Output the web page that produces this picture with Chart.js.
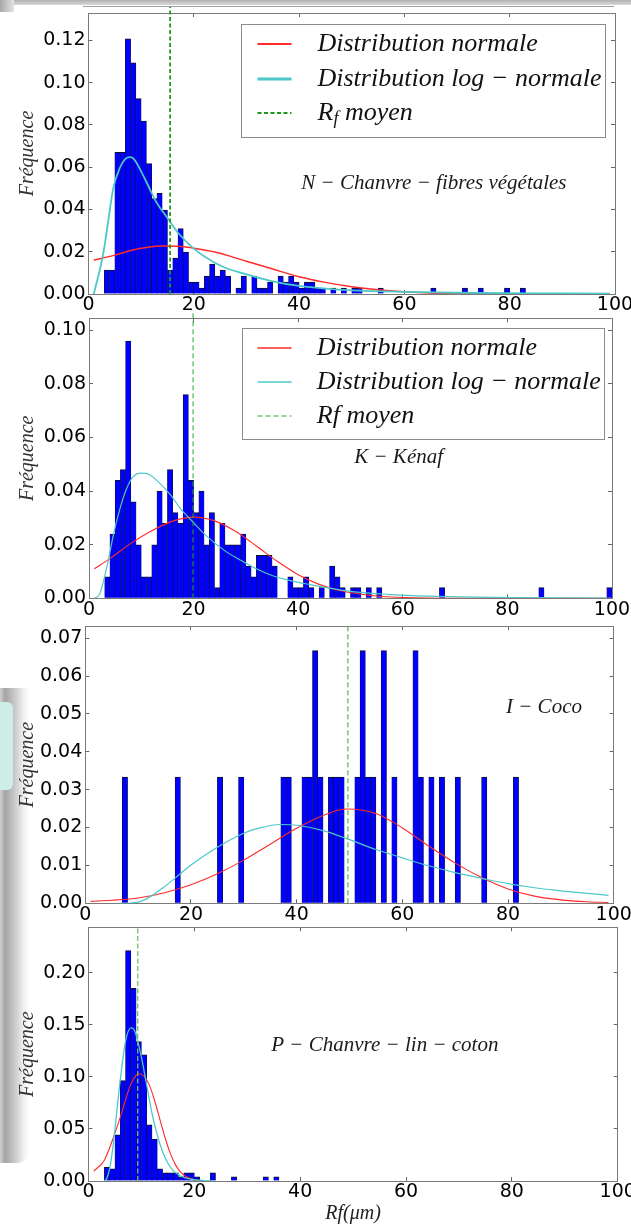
<!DOCTYPE html>
<html>
<head>
<meta charset="utf-8">
<script src="https://cdn.jsdelivr.net/npm/chart.js@4.4.1/dist/chart.umd.min.js"></script>
<style>
html,body{margin:0;padding:0;background:#fff;}
body{width:631px;height:1225px;overflow:hidden;position:relative;}
canvas{position:absolute;left:0;}
.deco{position:absolute;}
</style>
</head>
<body>
<div class="deco" style="left:0;top:0;width:631px;height:5px;background:linear-gradient(#b2b2b2,#d8d8d8);"></div>
<div class="deco" style="left:0;top:0;width:14px;height:12px;background:linear-gradient(to right,#a8a8a8,#e4e4e4);"></div>
<div class="deco" style="left:83px;top:6px;width:531px;height:1px;background:#a0a0a0;"></div>
<div class="deco" style="left:0;top:688px;width:30px;height:475px;border-radius:0 0 14px 0;background:linear-gradient(to right,#d0d0d0 0,#a4a4a4 5px,#c6c6c6 14px,#f2f2f2 24px,#ffffff 30px);"></div>
<div class="deco" style="left:0;top:702px;width:13px;height:88px;border-radius:0 6px 6px 0;background:#cdeee6;"></div>

<canvas id="c1" width="660" height="330" style="top:0px"></canvas>
<canvas id="c2" width="660" height="324" style="top:306px"></canvas>
<canvas id="c3" width="660" height="320" style="top:614px"></canvas>
<canvas id="c4" width="660" height="320" style="top:915px"></canvas>

<script>
// ---------- texts ----------
const yTitle = 'Fréquence';
const xTitle = 'Rf(μm)';
const panelNames = ['N − Chanvre − fibres végétales', 'K − Kénaf', 'I − Coco', 'P − Chanvre − lin − coton'];
const legendLabelsN = ['Distribution normale', 'Distribution log − normale', 'R_f moyen'];
const legendLabelsK = ['Distribution normale', 'Distribution log − normale', 'Rf moyen'];

// ---------- tick labels ----------
const xTickValues = [0, 20, 40, 60, 80, 100];
const chanvreYTicks = [0, 0.02, 0.04, 0.06, 0.08, 0.10, 0.12];
const kenafYTicks = [0, 0.02, 0.04, 0.06, 0.08, 0.10];
const cocoYTicks = [0, 0.01, 0.02, 0.03, 0.04, 0.05, 0.06, 0.07];
const linYTicks = [0, 0.05, 0.10, 0.15, 0.20];

// ---------- histograms (left edge of each non-empty bin, bin width 1 µm) ----------
const BIN_WIDTH = 1;
const chanvreBins = [3,4,5,6,7,8,9,10,11,12,13,14,15,16,17,18,19,20,21,22,23,24,25,26,28,29,31,32,33,34,36,37,38,39,40,41,42,43,44,46,48,50,51,55,65,71,74,79,82];
const chanvreFreq = [0.0113,0.0113,0.067,0.067,0.1208,0.1094,0.0925,0.0819,0.0617,0.0452,0.0476,0.0397,0.0113,0.017,0.031,0.0198,0.0057,0.0057,0.0028,0.0085,0.0142,0.0085,0.0113,0.0085,0.0028,0.0085,0.0085,0.0028,0.0028,0.0057,0.0085,0.0057,0.0085,0.0057,0.0028,0.0057,0.0057,0.0028,0.0028,0.0028,0.0028,0.0028,0.0028,0.0028,0.0028,0.0028,0.0028,0.0028,0.0028];

const kenafBins = [3,4,5,6,7,8,9,10,11,12,13,14,15,16,17,18,19,20,21,22,23,24,25,26,27,28,29,30,31,32,33,34,35,38,39,40,41,42,44,46,47,48,50,51,53,55,67,86,99];
const kenafFreq = [0.008,0.024,0.044,0.048,0.096,0.036,0.020,0.008,0.008,0.020,0.040,0.028,0.048,0.032,0.028,0.076,0.044,0.032,0.040,0.020,0.032,0.004,0.028,0.020,0.020,0.020,0.024,0.012,0.008,0.016,0.016,0.016,0.012,0.008,0.004,0.004,0.008,0.004,0.004,0.012,0.008,0.004,0.004,0.004,0.004,0.004,0.004,0.004,0.004];

const cocoBins = [7,17,25,29,37,38,41,42,43,44,46,47,48,51,52,53,54,56,58,62,63,65,67,70,75,81];
const cocoFreq = [0.0333,0.0333,0.0333,0.0333,0.0333,0.0333,0.0333,0.0333,0.0667,0.0333,0.0333,0.0333,0.0333,0.0333,0.0667,0.0333,0.0333,0.0667,0.0333,0.0667,0.0333,0.0333,0.0333,0.0333,0.0333,0.0333];

const linBins = [3,4,5,6,7,8,9,10,11,12,13,14,15,16,17,18,19,20,23,27,33,35];
const linFreq = [0.0131,0.0118,0.0442,0.0963,0.2211,0.185,0.1338,0.121,0.0538,0.0403,0.0118,0.0078,0.0078,0.0078,0.0039,0.0078,0.0078,0.0039,0.0078,0.0039,0.0039,0.0039];

// ---------- fitted curves ----------
const chanvreNormX = [1,5,8,11,14,17,20,24,27,30,35,40,45,50,55,60,65,70,80,99];
const chanvreNormY = [0.0161,0.0184,0.0206,0.022,0.0227,0.0226,0.0217,0.0199,0.0178,0.0155,0.0118,0.0082,0.0055,0.0034,0.002,0.0011,0.0005,0.0002,0.00003,0];
const chanvreLogX = [1,1.5,2.3,3,3.6,4.7,6,7,7.9,8.6,9.8,11,13,15,17,20,25,30,35,40,45,50,60,70,80,90,99];
const chanvreLogY = [0,0.005,0.013,0.022,0.032,0.05,0.06,0.064,0.0648,0.064,0.059,0.053,0.043,0.036,0.029,0.0215,0.0135,0.0093,0.006,0.0038,0.0025,0.0017,0.001,0.0006,0.0004,0.0003,0.0002];
const chanvreMean = 15.5;

const kenafNormX = [1,4,8,12,16,20,24,28,32,36,40,44,48,52,56,60,70,99];
const kenafNormY = [0.011,0.0148,0.0205,0.0252,0.0288,0.0303,0.0289,0.025,0.0195,0.0138,0.0088,0.0052,0.0029,0.0015,0.0007,0.0003,0.00002,0];
const kenafLogX = [1,2,3.4,4.7,6,7.2,8.5,10,11.5,13.5,15.5,17.5,20,22.5,26,29,32,35,38.7,42,46,50,57,65,80,99];
const kenafLogY = [0,0.0015,0.0115,0.024,0.034,0.041,0.0455,0.0467,0.0462,0.043,0.0388,0.0335,0.0282,0.0232,0.0177,0.0142,0.011,0.0085,0.0065,0.0052,0.0038,0.0026,0.0015,0.0008,0.0003,0.0001];
const kenafMean = 19.9;

const cocoNormX = [1,5,10,15,20,25,30,35,40,45,49.5,55,60,65,70,75,80,85,90,95,99];
const cocoNormY = [0.0005,0.0008,0.0014,0.0028,0.0049,0.0078,0.0114,0.0156,0.0198,0.0232,0.0249,0.0237,0.0199,0.0151,0.0106,0.0068,0.0038,0.0019,0.0009,0.0004,0.0002];
const cocoLogX = [6,8,10,12,15,18,20,25,30,33,37,40,45,50,55,60,65,70,75,80,85,90,95,99];
const cocoLogY = [0,0,0.0003,0.0015,0.0044,0.0078,0.0101,0.0148,0.0185,0.0199,0.0208,0.0206,0.0192,0.0168,0.0142,0.012,0.0099,0.0081,0.0066,0.0052,0.0041,0.0033,0.0026,0.0021];
const cocoMean = 49.7;

const linNormX = [1,3,5,6,7,8,9,9.7,10.5,11.5,12.5,13.5,14.5,15.5,16.5,17.5,18.5,20,22];
const linNormY = [0.0095,0.02,0.046,0.061,0.078,0.093,0.1015,0.103,0.1005,0.092,0.077,0.059,0.041,0.026,0.015,0.008,0.004,0.0013,0.0003];
const linLogX = [3,3.5,4,4.5,5,6,7,8,8.5,9,10,11,12,13,14,15,16,17,18,20,22,24];
const linLogY = [0,0.003,0.012,0.028,0.05,0.097,0.134,0.147,0.146,0.14,0.119,0.092,0.065,0.044,0.028,0.017,0.01,0.006,0.0035,0.0012,0.0004,0];
const linMean = 9.3;

// ---------- helpers ----------
const SERIF = '"Liberation Serif", "DejaVu Serif", serif';
const SANS = '"DejaVu Sans", sans-serif';
const histData = (bins, freq) => bins.map((b, i) => ({x: b + BIN_WIDTH / 2, y: freq[i]}));
const curveData = (xs, ys) => xs.map((x, i) => ({x: x, y: ys[i]}));

function drawRich(ctx, text, x, y, size) {
  ctx.textAlign = 'left';
  ctx.textBaseline = 'middle';
  ctx.fillStyle = '#111';
  let cx = x;
  text.split(/(_[^ ])/).forEach(part => {
    if (!part) return;
    const sub = part[0] === '_';
    const t = sub ? part.slice(1) : part;
    ctx.font = 'italic ' + (sub ? Math.round(size * 0.7) : size) + 'px ' + SERIF;
    ctx.fillText(t, cx, sub ? y + size * 0.25 : y);
    cx += ctx.measureText(t).width;
  });
}

const panelDecor = {
  id: 'panelDecor',
  afterDraw(chart, args, o) {
    const {ctx, chartArea: ca, scales} = chart;
    ctx.save();
    if (o.name) {
      ctx.font = 'italic ' + o.nameSize + 'px ' + SERIF;
      ctx.fillStyle = '#1a1a1a';
      ctx.textAlign = 'center';
      ctx.textBaseline = 'middle';
      ctx.fillText(o.name, scales.x.getPixelForValue(o.nameX), scales.y.getPixelForValue(o.nameY));
    }
    const L = o.legend;
    if (L && L.show) {
      const x0 = Math.round(ca.right - L.right - L.width) + 0.5;
      const y0 = Math.round(ca.top + L.top) + 0.5;
      ctx.fillStyle = '#fff';
      ctx.fillRect(x0, y0, L.width, L.height);
      ctx.strokeStyle = '#8c8c8c';
      ctx.lineWidth = 1;
      ctx.strokeRect(x0, y0, L.width, L.height);
      const ds = chart.data.datasets.filter(d => d.label);
      ds.forEach((d, i) => {
        const y = Math.round(y0 + L.rows[i]);
        ctx.beginPath();
        ctx.setLineDash(d.legendDash || []);
        ctx.strokeStyle = d.legendColor;
        ctx.lineWidth = L.widths[i];
        ctx.moveTo(x0 + L.sx, y);
        ctx.lineTo(x0 + L.sx + L.sl, y);
        ctx.stroke();
        ctx.setLineDash([]);
        drawRich(ctx, d.label, x0 + L.tx, y, L.font);
      });
    }
    ctx.restore();
  }
};
Chart.register(panelDecor);

function scalesFor(p) {
  const tickFont = {family: SANS, size: 19};
  const grid = {display: true, drawOnChartArea: false, drawTicks: true, tickLength: -4, tickColor: '#666', tickWidth: 1, offset: false};
  const border = {display: true, color: '#7a7a7a', width: 1};
  const fixX = h => s => { s.height = h; s.paddingLeft = 0; s.paddingRight = 0; };
  const fixY = w => s => { s.width = w; s.paddingTop = 0; s.paddingBottom = 0; };
  const setTicks = vals => s => { s.ticks = vals.map(v => ({value: v})); };
  return {
    x: {
      type: 'linear', position: 'bottom', min: 0, max: 100, offset: false, z: 1, grid: grid, border: border,
      afterBuildTicks: setTicks(xTickValues),
      ticks: {font: tickFont, color: '#000', padding: 4, maxRotation: 0, autoSkip: false, callback: v => String(v)},
      title: p.xTitle ? {display: true, text: p.xTitle, font: {family: SERIF, style: 'italic', size: 20}, color: '#222', padding: {top: 0, bottom: 5}} : {display: false},
      afterFit: fixX(p.xH)
    },
    x2: {
      type: 'linear', position: 'top', min: 0, max: 100, offset: false, z: 1, grid: grid, border: border,
      afterBuildTicks: setTicks(xTickValues), ticks: {display: false}, afterFit: fixX(0)
    },
    y: {
      type: 'linear', position: 'left', min: 0, max: p.ymax, z: 1, grid: grid, border: border,
      afterBuildTicks: setTicks(p.yTicks),
      ticks: {font: tickFont, color: '#000', padding: 7, callback: v => v.toFixed(2)},
      title: {display: true, text: yTitle, font: {family: SERIF, style: 'italic', size: 20}, color: '#333', padding: {top: 16, bottom: 0}},
      afterFit: fixY(p.yW)
    },
    y2: {
      type: 'linear', position: 'right', min: 0, max: p.ymax, z: 1, grid: grid, border: border,
      afterBuildTicks: setTicks(p.yTicks), ticks: {display: false}, afterFit: fixY(0)
    }
  };
}

function makePanel(p) {
  const red = '#ff2a2a', cyan = '#4cc8c8';
  const datasets = [
    {type: 'bar', data: histData(p.bins, p.freq), backgroundColor: '#0000ff', borderColor: '#101028',
     borderWidth: {top: 1, left: 0.6, right: 0.6, bottom: 0}, barPercentage: 1, categoryPercentage: 1, order: 5},
    {type: 'line', label: p.labels[0], legendColor: red, data: curveData(p.normX, p.normY), borderColor: red, borderWidth: p.lw,
     pointRadius: 0, fill: false, cubicInterpolationMode: 'monotone', order: 3},
    {type: 'line', label: p.labels[1], legendColor: cyan, data: curveData(p.logX, p.logY), borderColor: cyan, borderWidth: p.lwc,
     pointRadius: 0, fill: false, cubicInterpolationMode: 'monotone', order: 2},
    {type: 'line', label: p.labels[2], legendColor: p.green, data: [{x: p.mean, y: 0}, {x: p.mean, y: p.ymax * 1.2}], borderColor: p.green,
     borderWidth: p.gw, borderDash: p.dash, legendDash: p.dash, pointRadius: 0, fill: false, order: 1,
     clip: {left: 0, right: 0, bottom: 0, top: p.over}}
  ];
  new Chart(document.getElementById(p.id), {
    type: 'bar',
    data: {datasets: datasets},
    options: {
      responsive: false, animation: false, devicePixelRatio: 1, events: [],
      layout: {padding: {left: 0, top: p.padTop, right: p.padRight, bottom: p.padBottom}},
      scales: scalesFor(p),
      plugins: {
        legend: {display: false}, tooltip: {enabled: false},
        panelDecor: {name: p.name, nameX: p.nameX, nameY: p.nameY, nameSize: 21, legend: p.legend}
      }
    }
  });
}

makePanel({id: 'c1', padTop: 13, padBottom: 6, padRight: 45, yW: 88.5, xH: 30, ymax: 0.133, yTicks: chanvreYTicks,
  bins: chanvreBins, freq: chanvreFreq, normX: chanvreNormX, normY: chanvreNormY, logX: chanvreLogX, logY: chanvreLogY,
  mean: chanvreMean, labels: legendLabelsN, lw: 1.5, lwc: 1.8, gw: 1.8, dash: [4, 2.5], green: '#1f9a1f', over: 6,
  name: panelNames[0], nameX: 65.6, nameY: 0.0524,
  legend: {show: true, right: 10, top: 11, width: 364, height: 113, rows: [19.3, 54.7, 88.7], sx: 16, sl: 34, tx: 76, font: 26, widths: [2, 3, 2]}});

makePanel({id: 'c2', padTop: 12.3, padBottom: 1.7, padRight: 48, yW: 89, xH: 30, ymax: 0.1045, yTicks: kenafYTicks,
  bins: kenafBins, freq: kenafFreq, normX: kenafNormX, normY: kenafNormY, logX: kenafLogX, logY: kenafLogY,
  mean: kenafMean, labels: legendLabelsK, lw: 1.1, lwc: 1.2, gw: 1, dash: [5, 3], green: '#2aa82a', over: 8,
  name: panelNames[1], nameX: 59.2, nameY: 0.0524,
  legend: {show: true, right: 8, top: 10, width: 362, height: 111, rows: [19, 53.4, 87.7], sx: 15, sl: 34, tx: 74.3, font: 26, widths: [1.5, 1.5, 1.2]}});

makePanel({id: 'c3', padTop: 12, padBottom: 0.7, padRight: 46.3, yW: 85.3, xH: 30, ymax: 0.0732, yTicks: cocoYTicks,
  bins: cocoBins, freq: cocoFreq, normX: cocoNormX, normY: cocoNormY, logX: cocoLogX, logY: cocoLogY,
  mean: cocoMean, labels: ['', '', ''], lw: 1.1, lwc: 1.2, gw: 1, dash: [5, 3], green: '#2aa82a', over: 0,
  name: panelNames[2], nameX: 86.8, nameY: 0.0516, legend: {show: false}});

makePanel({id: 'c4', padTop: 12.3, padBottom: 4, padRight: 42.3, yW: 88.5, xH: 50, ymax: 0.2435, yTicks: linYTicks,
  bins: linBins, freq: linFreq, normX: linNormX, normY: linNormY, logX: linLogX, logY: linLogY,
  mean: linMean, labels: ['', '', ''], lw: 1.1, lwc: 1.3, gw: 1.3, dash: [5, 2.5], green: '#6cc06c', over: 0, xTitle: xTitle,
  name: panelNames[3], nameX: 56.0, nameY: 0.1305, legend: {show: false}});
</script>
</body>
</html>
